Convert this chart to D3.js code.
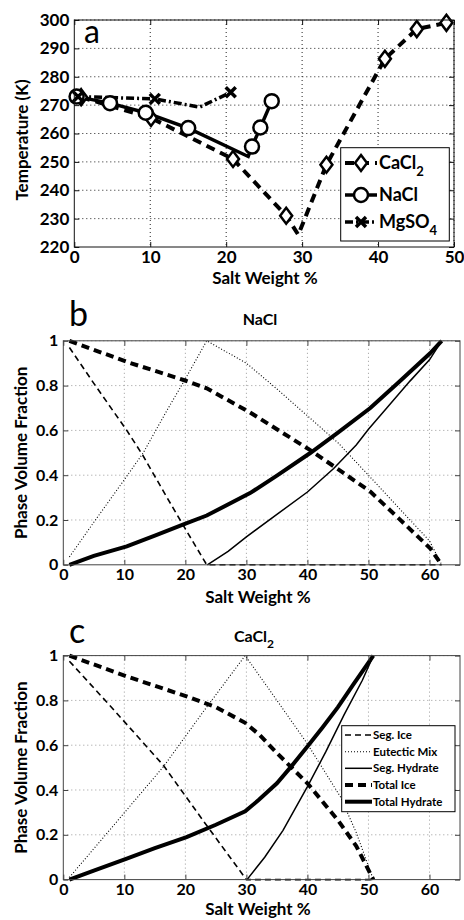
<!DOCTYPE html>
<html>
<head>
<meta charset="utf-8">
<script src="https://cdn.jsdelivr.net/npm/d3@7"></script>
<style>
body{margin:0;background:#fff;}
text{font-family:Lato,"Open Sans",sans-serif;font-weight:bold;fill:#000;}
</style>
</head>
<body>
<script>
//panel a: freezing curves (salt wt %, temperature K)
var caclSalt = [0.9, 10.1, 20.9, 27.9, 33.2, 40.9, 45.1, 49];
var caclTemp = [272.8, 265.5, 251, 231, 249, 286.3, 296.8, 299];
var caclEutectic = [29.5, 224.3];
var naclSalt = [0.3, 4.7, 9.4, 15, 23.4, 24.5, 26];
var naclTemp = [273, 270.7, 267.3, 261.9, 255.4, 262.1, 271.4];
var naclEutectic = [22.9, 251.9];
var mgsoSalt = [0.5, 10.6, 20.6];
var mgsoTemp = [273, 272.2, 274.5];
var mgsoEutectic = [16.5, 269.3];

var aXTicks = [0, 10, 20, 30, 40, 50];
var aYTicks = [220, 230, 240, 250, 260, 270, 280, 290, 300];
var phaseXTicks = [0, 10, 20, 30, 40, 50, 60];
var phaseYTicks = [0, 0.2, 0.4, 0.6, 0.8, 1];

//panel b: NaCl phase fractions [salt wt %, fraction]
var naclSegIce = [[1,0.97],[5,0.81],[10.4,0.6],[13,0.49],[17,0.3],[20,0.16],[23.5,0],[62,0]];
var naclEutecticMix = [[1,0.035],[5,0.19],[10,0.38],[13.1,0.5],[17,0.69],[20,0.83],[23.5,1],[30,0.9],[35,0.785],[40,0.665],[45,0.545],[50,0.4],[55,0.253],[60,0.107],[62,0]];
var naclSegHydrate = [[23.6,0],[27,0.06],[30,0.125],[35,0.225],[40,0.325],[44.3,0.43],[48,0.535],[50,0.605],[53,0.7],[56.8,0.82],[60,0.915],[62,1]];
var naclTotalIce = [[1,1],[10.4,0.906],[19.7,0.825],[23.5,0.788],[30.6,0.68],[35,0.605],[40.4,0.513],[45,0.427],[50.3,0.327],[55,0.206],[60.1,0.074],[62,0]];
var naclTotalHydrate = [[1,0],[5,0.04],[10.4,0.082],[15,0.13],[19.7,0.18],[23.5,0.22],[30.6,0.32],[35,0.398],[40.4,0.498],[45,0.59],[50.3,0.7],[55,0.816],[60.1,0.944],[62,1]];

//panel c: CaCl2 phase fractions
var caclSegIce = [[1,0.975],[8,0.766],[16.4,0.51],[23,0.26],[30,0],[50.8,0]];
var caclEutecticMix = [[1,0.01],[8,0.234],[16.4,0.504],[23,0.752],[29.8,1],[35,0.8],[39.9,0.61],[45.4,0.37],[48,0.21],[50.8,0]];
var caclSegHydrate = [[30.1,0],[33,0.1],[36,0.22],[40,0.415],[43,0.57],[46,0.735],[49,0.89],[50.8,1]];
var caclTotalIce = [[1,1],[10.4,0.907],[20.2,0.818],[25,0.77],[29.8,0.7],[32.2,0.645],[35,0.565],[40,0.43],[45,0.265],[48,0.15],[50.8,0]];
var caclTotalHydrate = [[1,0],[5,0.04],[10.4,0.094],[15,0.14],[20.2,0.19],[25,0.245],[29.8,0.305],[32,0.355],[35,0.43],[37.5,0.51],[40,0.594],[42.5,0.68],[45,0.77],[47.5,0.87],[50.8,1]];

var phaseNames = ["Seg. Ice", "Eutectic Mix", "Seg. Hydrate", "Total Ice", "Total Hydrate"];

//line styles for the five phases
var phaseStyles = [
    {w: 1.6, dash: "6,4"},
    {w: 1.1, dash: "1,2"},
    {w: 1.5, dash: null},
    {w: 4, dash: "8,5"},
    {w: 4, dash: null}
];

var svg = d3.select("body").append("svg")
    .attr("width", 464)
    .attr("height", 920);

//build one framed axes box, MATLAB style
function makePanel(o){
    var g = svg.append("g").attr("transform", "translate(" + o.left + "," + o.top + ")");
    var x = d3.scaleLinear().domain(o.xDomain).range([0, o.width]);
    var y = d3.scaleLinear().domain(o.yDomain).range([o.height, 0]);

    //grid
    g.append("g").selectAll("line").data(o.xTicks.slice(1)).enter().append("line")
        .attr("x1", x).attr("x2", x).attr("y1", 0).attr("y2", o.height)
        .attr("stroke", o.gridColor).attr("stroke-width", 1).attr("stroke-dasharray", "1,3");
    g.append("g").selectAll("line").data(o.yTicks.slice(1)).enter().append("line")
        .attr("y1", y).attr("y2", y).attr("x1", 0).attr("x2", o.width)
        .attr("stroke", o.gridColor).attr("stroke-width", 1).attr("stroke-dasharray", "1,3");

    var layer = g.append("g");

    //ticks on all four sides, pointing inward
    g.append("g").attr("transform", "translate(0," + o.height + ")")
        .call(d3.axisBottom(x).tickValues(o.xTicks).tickSizeInner(-5).tickSizeOuter(0).tickPadding(4));
    g.append("g")
        .call(d3.axisLeft(y).tickValues(o.yTicks).tickSizeInner(-5).tickSizeOuter(0).tickPadding(5).tickFormat(o.yFormat));
    g.append("g").call(d3.axisTop(x).tickValues(o.xTicks).tickSizeInner(-5).tickSizeOuter(0).tickFormat(""));
    g.append("g").attr("transform", "translate(" + o.width + ",0)")
        .call(d3.axisRight(y).tickValues(o.yTicks).tickSizeInner(-5).tickSizeOuter(0).tickFormat(""));
    g.selectAll(".domain").remove();
    g.selectAll(".tick line").attr("stroke", o.boxColor);
    g.selectAll(".tick text").style("font-size", o.fontSize + "px").style("font-family", "Lato").style("font-weight", "bold");

    g.append("rect").attr("width", o.width).attr("height", o.height)
        .attr("fill", "none").attr("stroke", o.boxColor).attr("stroke-width", 1);

    return {g: layer, root: g, x: x, y: y};
}

//---------- panel a ----------
var pa = makePanel({left: 74.3, top: 20, width: 379.7, height: 227,
    xDomain: [0, 50], yDomain: [220, 300], xTicks: aXTicks, yTicks: aYTicks,
    yFormat: d3.format("d"), gridColor: "#222", boxColor: "#111", fontSize: 17});

function curvePoints(xs, ts, eut){
    var pts = xs.map(function(d, i){ return [d, ts[i]]; });
    pts.push(eut);
    pts.sort(function(a, b){ return a[0] - b[0]; });
    return pts;
}

var lineA = d3.line().x(function(d){ return pa.x(d[0]); }).y(function(d){ return pa.y(d[1]); });

var saltSeries = [
    {name: "CaCl", sub: "2", pts: curvePoints(caclSalt, caclTemp, caclEutectic), xs: caclSalt, ts: caclTemp, w: 4, dash: "9,6", mark: "diamond"},
    {name: "NaCl", sub: "", pts: curvePoints(naclSalt, naclTemp, naclEutectic), xs: naclSalt, ts: naclTemp, w: 3.5, dash: null, mark: "circle"},
    {name: "MgSO", sub: "4", pts: curvePoints(mgsoSalt, mgsoTemp, mgsoEutectic), xs: mgsoSalt, ts: mgsoTemp, w: 3.5, dash: "8,3,2,3", mark: "x"}
];

function drawMarker(sel, type, cx, cy){
    if (type == "diamond"){
        sel.append("path").attr("d", "M0,-8L6,0L0,8L-6,0Z")
            .attr("transform", "translate(" + cx + "," + cy + ")")
            .attr("fill", "#fff").attr("stroke", "#000").attr("stroke-width", 2.5);
    } else if (type == "circle"){
        sel.append("circle").attr("cx", cx).attr("cy", cy).attr("r", 7)
            .attr("fill", "#fff").attr("stroke", "#000").attr("stroke-width", 2.5);
    } else {
        sel.append("path").attr("d", "M-5,-5L5,5M-5,5L5,-5")
            .attr("transform", "translate(" + cx + "," + cy + ")")
            .attr("stroke", "#000").attr("stroke-width", 3.5);
    }
}

saltSeries.forEach(function(s){
    pa.g.append("path").datum(s.pts).attr("d", lineA)
        .attr("fill", "none").attr("stroke", "#000").attr("stroke-width", s.w)
        .attr("stroke-dasharray", s.dash);
});
saltSeries.forEach(function(s){
    s.xs.forEach(function(d, i){
        drawMarker(pa.g, s.mark, pa.x(d), pa.y(s.ts[i]));
    });
});

//panel a legend
var legA = svg.append("g");
legA.append("rect").attr("x", 340.7).attr("y", 147.7).attr("width", 108.6).attr("height", 93.3)
    .attr("fill", "#fff").attr("stroke", "#000").attr("stroke-width", 1);
var legAY = [163, 195, 222];
saltSeries.forEach(function(s, i){
    legA.append("line").attr("x1", 345).attr("x2", 377).attr("y1", legAY[i]).attr("y2", legAY[i])
        .attr("stroke", "#000").attr("stroke-width", s.w).attr("stroke-dasharray", s.dash);
    drawMarker(legA, s.mark, 361, legAY[i]);
    var t = legA.append("text").attr("x", 379).attr("y", legAY[i] + 6).style("font-size", "18px").text(s.name);
    if (s.sub) t.append("tspan").attr("dy", 7).style("font-size", "13px").text(s.sub);
});

svg.append("text").attr("x", 84).attr("y", 43).style("font-size", "32px").style("font-weight", "normal").text("a");
svg.append("text").attr("x", 265).attr("y", 284).attr("text-anchor", "middle").style("font-size", "17px").text("Salt Weight %");
svg.append("text").attr("transform", "translate(28,140) rotate(-90)").attr("text-anchor", "middle")
    .style("font-size", "17px").text("Temperature (K)");

//---------- panels b and c ----------
function phasePanel(top, series, title, sub, letter, letterY, titleY, labelY){
    var p = makePanel({left: 63.3, top: top, width: 396.7, height: 224,
        xDomain: [0, 65], yDomain: [0, 1], xTicks: phaseXTicks, yTicks: phaseYTicks,
        yFormat: function(d){ return d3.format("")(d); }, gridColor: "#999", boxColor: "#444", fontSize: 16});
    var line = d3.line().x(function(d){ return p.x(d[0]); }).y(function(d){ return p.y(d[1]); });
    series.forEach(function(s, i){
        p.g.append("path").datum(s).attr("d", line)
            .attr("fill", "none").attr("stroke", "#000")
            .attr("stroke-width", phaseStyles[i].w)
            .attr("stroke-dasharray", phaseStyles[i].dash);
    });
    svg.append("text").attr("x", 69).attr("y", letterY).style("font-size", "34px").style("font-weight", "normal").text(letter);
    var t = svg.append("text").attr("x", sub ? 254 : 260).attr("y", titleY).attr("text-anchor", "middle")
        .style("font-size", "16px").text(title);
    if (sub) t.append("tspan").attr("dy", 6).style("font-size", "12px").text(sub);
    svg.append("text").attr("x", 258).attr("y", labelY).attr("text-anchor", "middle").style("font-size", "17px").text("Salt Weight %");
    svg.append("text").attr("transform", "translate(27," + (top + 112) + ") rotate(-90)").attr("text-anchor", "middle")
        .style("font-size", "17px").text("Phase Volume Fraction");
    return p;
}

phasePanel(340.8, [naclSegIce, naclEutecticMix, naclSegHydrate, naclTotalIce, naclTotalHydrate],
    "NaCl", "", "b", 326, 325, 603);
phasePanel(655.6, [caclSegIce, caclEutecticMix, caclSegHydrate, caclTotalIce, caclTotalHydrate],
    "CaCl", "2", "c", 643, 642, 915);

//panel c legend
var legC = svg.append("g");
legC.append("rect").attr("x", 341.7).attr("y", 725.7).attr("width", 113.3).attr("height", 86)
    .attr("fill", "#fff").attr("stroke", "#000").attr("stroke-width", 1);
var legCY = [735, 751.7, 768.3, 785, 801.7];
phaseNames.forEach(function(n, i){
    legC.append("line").attr("x1", 345).attr("x2", 372).attr("y1", legCY[i]).attr("y2", legCY[i])
        .attr("stroke", "#000").attr("stroke-width", phaseStyles[i].w)
        .attr("stroke-dasharray", phaseStyles[i].dash);
    legC.append("text").attr("x", 373).attr("y", legCY[i] + 4).style("font-size", "11.5px").text(n);
});
</script>
</body>
</html>
